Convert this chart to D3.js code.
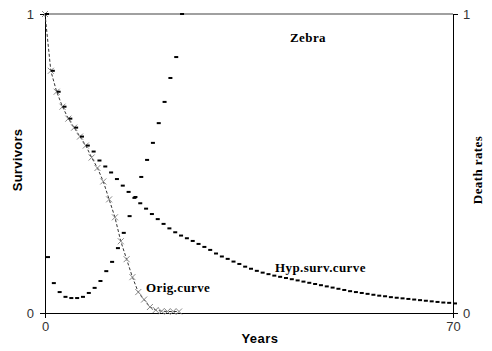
<!DOCTYPE html>
<html>
<head>
<script src="https://d3js.org/d3.v7.min.js" charset="utf-8"></script>
<style>
    body{ margin:0; background:white; }
    svg text{ font-family:"Liberation Sans", Arial, sans-serif; }
    .serif{ font-family:"Liberation Serif", "Times New Roman", serif; font-weight:bold; letter-spacing:0.4px; }
</style>
</head>
<body>
<div id="chart"></div>
<script>

    // survivors, original curve (x markers), years 0..23
    var origYears = d3.range(0, 24)
    var origValues = [1.0, 0.81, 0.74, 0.69, 0.65, 0.62, 0.59, 0.56, 0.52, 0.485, 0.44, 0.38,
                      0.32, 0.24, 0.18, 0.12, 0.07, 0.045, 0.02, 0.01, 0.006, 0.005, 0.005, 0.005]

    // hypothetical survival curve, years 0..70
    var hypYears = d3.range(0, 71)
    var hypValues = [1.0, 0.81, 0.74, 0.69, 0.65, 0.62, 0.59, 0.56, 0.54, 0.51,
                     0.49, 0.47, 0.448, 0.426, 0.405, 0.385, 0.367, 0.349, 0.331, 0.314,
                     0.298, 0.283, 0.27, 0.259, 0.25, 0.241, 0.231, 0.221, 0.211, 0.199,
                     0.189, 0.181, 0.172, 0.164, 0.155, 0.148, 0.141, 0.135, 0.13, 0.125,
                     0.121, 0.117, 0.113, 0.109, 0.105, 0.101, 0.097, 0.093, 0.089, 0.085,
                     0.081, 0.077, 0.073, 0.07, 0.067, 0.064, 0.061, 0.058, 0.056, 0.053,
                     0.051, 0.049, 0.047, 0.045, 0.043, 0.041, 0.039, 0.037, 0.035, 0.034, 0.032]

    // death rates (right axis), years 0..23
    var deathYears = d3.range(0, 24)
    var deathValues = [0.187, 0.10, 0.07, 0.054, 0.05, 0.05, 0.054, 0.067, 0.084, 0.107, 0.14, 0.171,
                       0.217, 0.268, 0.324, 0.388, 0.455, 0.512, 0.569, 0.635, 0.706, 0.786, 0.856, 1.0]

    var xTicks = [0, 70]
    var yTicks = [0, 1]

    var width = 492, height = 351
    var plotLeft = 45, plotRight = 453, plotTop = 14, plotBottom = 313

    var xScale = d3.scaleLinear().domain([0,70]).range([plotLeft,plotRight])
    var yScale = d3.scaleLinear().domain([0,1]).range([plotBottom,plotTop])
    var y2Scale = d3.scaleLinear().domain([0,1]).range([plotBottom,plotTop])

    var svg = d3.select("#chart").append("svg")
        .attr("width",width).attr("height",height)

    // top frame line
    svg.append("line")
        .attr("x1",plotLeft).attr("x2",plotRight).attr("y1",plotTop).attr("y2",plotTop)
        .attr("stroke","#808080").attr("stroke-width",1.5)

    var axisFont = function(g){
        g.select(".domain").attr("stroke","black")
        g.selectAll(".tick line").attr("stroke","black")
        g.selectAll(".tick text").attr("font-size",13).attr("fill","#333")
            .attr("font-family","Liberation Sans, Arial, sans-serif")
    }

    svg.append("g").attr("transform","translate("+plotLeft+",0)")
        .call(d3.axisLeft(yScale).tickValues(yTicks).tickSize(5).tickSizeOuter(0).tickPadding(6).tickFormat(d3.format("d")))
        .call(axisFont)

    svg.append("g").attr("transform","translate("+plotRight+",0)")
        .call(d3.axisRight(y2Scale).tickValues(yTicks).tickSize(5).tickSizeOuter(0).tickPadding(5).tickFormat(d3.format("d")))
        .call(axisFont)

    svg.append("g").attr("transform","translate(0,"+plotBottom+")")
        .call(d3.axisBottom(xScale).tickValues(xTicks).tickSize(5).tickSizeOuter(0).tickPadding(4))
        .call(axisFont)

    // original curve: thin dashed line with x markers
    var origData = origYears.map(function(d,i){ return [d, origValues[i]] })
    svg.append("path")
        .datum(origData)
        .attr("fill","none")
        .attr("stroke","#333")
        .attr("stroke-width",1)
        .attr("stroke-dasharray","3,2")
        .attr("d",d3.line().x(function(d){return xScale(d[0])}).y(function(d){return yScale(d[1])}))

    svg.append("g").selectAll("path")
        .data(origData)
        .enter()
        .append("path")
        .attr("transform",function(d){return "translate("+xScale(d[0])+","+yScale(d[1])+")"})
        .attr("d","M-3,-3L3,3M-3,3L3,-3")
        .attr("stroke","#888")
        .attr("stroke-width",1)

    // hypothetical survival curve: dash markers
    svg.append("g").selectAll("rect")
        .data(hypYears)
        .enter()
        .append("rect")
        .attr("x",function(d){return xScale(d)})
        .attr("y",function(d,i){return yScale(hypValues[i])-1})
        .attr("width",4)
        .attr("height",2)
        .attr("fill","black")

    // death rates: dash markers on right axis
    svg.append("g").selectAll("rect")
        .data(deathYears)
        .enter()
        .append("rect")
        .attr("x",function(d){return xScale(d)+1})
        .attr("y",function(d,i){return y2Scale(deathValues[i])-1})
        .attr("width",4)
        .attr("height",2)
        .attr("fill","black")

    // labels
    svg.append("text").text("Survivors")
        .attr("transform","translate(22,160) rotate(-90)")
        .attr("text-anchor","middle").attr("font-weight","bold").attr("font-size",13)
        .attr("letter-spacing","0.3px")

    svg.append("text").text("Death rates").attr("class","serif")
        .attr("transform","translate(482,170) rotate(-90)")
        .attr("text-anchor","middle").attr("font-size",13)

    svg.append("text").text("Years")
        .attr("x",260).attr("y",343)
        .attr("text-anchor","middle").attr("font-weight","bold").attr("font-size",13)
        .attr("letter-spacing","0.5px")

    svg.append("text").text("Zebra").attr("class","serif")
        .attr("x",308).attr("y",42).attr("text-anchor","middle").attr("font-size",13)

    svg.append("text").text("Orig.curve").attr("class","serif")
        .attr("x",146).attr("y",292).attr("font-size",13)

    svg.append("text").text("Hyp.surv.curve").attr("class","serif")
        .attr("x",275).attr("y",272).attr("font-size",13)

</script>
</body>
</html>
